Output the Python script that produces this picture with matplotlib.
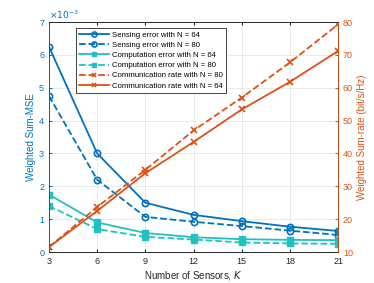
import matplotlib
matplotlib.use("Agg")
import matplotlib.pyplot as plt

BLUE = "#0072BD"
CYAN = "#1EC2C2"
ORANGE = "#D95319"

# Data
K = [3, 6, 9, 12, 15, 18, 21]
sens_64 = [6.25, 3.0, 1.5, 1.13, 0.94, 0.77, 0.64]
sens_80 = [4.75, 2.2, 1.07, 0.92, 0.79, 0.65, 0.52]
comp_64 = [1.75, 0.9, 0.58, 0.45, 0.39, 0.37, 0.36]
comp_80 = [1.4, 0.7, 0.46, 0.38, 0.29, 0.26, 0.25]
rate_80 = [11.5, 23.7, 35.0, 47.0, 57.0, 67.7, 79.3]
rate_64 = [11.5, 22.5, 34.0, 43.5, 53.4, 61.8, 71.2]

plt.rcParams["font.family"] = ["Liberation Sans", "DejaVu Sans"]

fig = plt.figure(figsize=(3.74, 2.83), dpi=100)
ax = fig.add_axes([0.131, 0.1095, 0.773, 0.8125])
ax2 = ax.twinx()

s = 1e-3
h1, = ax.plot(K, [v * s for v in sens_64], "-o", color=BLUE, lw=1.3, ms=4.5,
              mfc="none", mew=1.2, label="Sensing error with N = 64")
h2, = ax.plot(K, [v * s for v in sens_80], "--o", color=BLUE, lw=1.3, ms=4.5,
              mfc="none", mew=1.2, label="Sensing error with N = 80")
h3, = ax.plot(K, [v * s for v in comp_64], "-s", color=CYAN, lw=1.3, ms=4,
              label="Computation error with N = 64")
h4, = ax.plot(K, [v * s for v in comp_80], "--s", color=CYAN, lw=1.3, ms=4,
              label="Computation error with N = 80")
h5, = ax2.plot(K, rate_80, "--x", color=ORANGE, lw=1.3, ms=4, mew=1.2,
               label="Communication rate with N = 80")
h6, = ax2.plot(K, rate_64, "-x", color=ORANGE, lw=1.3, ms=4, mew=1.2,
               label="Communication rate with N = 64")

ax.set_xlim(3, 21)
ax.set_xticks(K)
ax.set_ylim(0, 7e-3)
ax.set_yticks([i * 1e-3 for i in range(8)])
ax.set_yticklabels([str(i) for i in range(8)])
ax2.set_ylim(10, 80)
ax2.set_yticks(range(10, 81, 10))

ax.grid(True, color="#e6e6e6", lw=0.6)
ax.set_axisbelow(True)

ax.tick_params(axis="x", labelsize=6.5, colors="#262626", direction="in", length=2.5, top=True)
ax.tick_params(axis="y", labelsize=6.5, colors=BLUE, direction="in", length=2.5)
ax2.tick_params(axis="y", labelsize=6.5, colors=ORANGE, direction="in", length=2.5)

for sp in ["top", "bottom"]:
    ax.spines[sp].set_color("#262626")
    ax2.spines[sp].set_color("#262626")
ax2.spines["left"].set_color(BLUE)
ax2.spines["right"].set_color(ORANGE)
for sp in ax.spines.values():
    sp.set_linewidth(0.6)
for sp in ax2.spines.values():
    sp.set_linewidth(0.6)

ax.text(0.0, 1.005, r"$\times10^{-3}$", transform=ax.transAxes, color=BLUE,
        fontsize=6.5, ha="left", va="bottom")

ax.set_xlabel("Number of Sensors, $K$", fontsize=7, color="#262626", labelpad=2)
ax.set_ylabel("Weighted Sum-MSE", fontsize=7, color=BLUE, labelpad=2)
ax2.set_ylabel("Weighted Sum-rate (bit/s/Hz)", fontsize=7, color=ORANGE, labelpad=3)

leg = ax2.legend(handles=[h1, h2, h3, h4, h5, h6], loc="upper left",
                 bbox_to_anchor=(0.08, 0.99), fontsize=5.6, frameon=True,
                 fancybox=False, edgecolor="#262626", framealpha=1,
                 handlelength=3.9, labelspacing=0.35, borderpad=0.4,
                 handletextpad=0.3, markerscale=0.8)
leg.get_frame().set_linewidth(0.6)

fig.savefig("out.png", dpi=100)
